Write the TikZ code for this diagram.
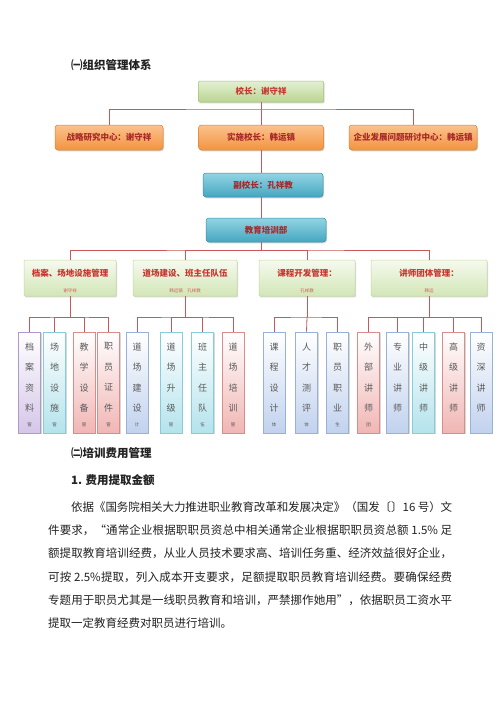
\documentclass[tikz,border=0pt]{standalone}
\usepackage{fontspec}
\setmainfont{Noto Sans CJK SC}
\usetikzlibrary{shadows}
\XeTeXlinebreaklocale "zh"
\XeTeXlinebreakskip=0pt plus 1.5pt minus 0.4pt
\definecolor{conn}{HTML}{C8585A}
\definecolor{gtop}{HTML}{E4F0D2}
\definecolor{gbot}{HTML}{B9D592}
\definecolor{gline}{HTML}{A3C579}
\definecolor{otop}{HTML}{FBC28E}
\definecolor{obot}{HTML}{F2943F}
\definecolor{oline}{HTML}{E07F2A}
\definecolor{btop}{HTML}{92D5E3}
\definecolor{bbot}{HTML}{45A6C0}
\definecolor{bline}{HTML}{3A8FA6}
\definecolor{ltop}{HTML}{F6FAEF}
\definecolor{lbot}{HTML}{D2E6B6}
\definecolor{lline}{HTML}{C2DA9E}
\definecolor{boxtxt}{HTML}{A8282A}
\definecolor{redtxt}{HTML}{C8362F}
\definecolor{pfill}{HTML}{D5C6E8}\definecolor{pline}{HTML}{AE98CF}
\definecolor{cfill}{HTML}{B4E3EC}\definecolor{cline}{HTML}{86CCDA}
\definecolor{rfill}{HTML}{F0B6B4}\definecolor{rline}{HTML}{D98C89}
\definecolor{ufill}{HTML}{C1D2EE}\definecolor{uline}{HTML}{97B1DB}
\definecolor{leaftext}{HTML}{5A5A5A}
\definecolor{bodytext}{HTML}{222222}
\newcommand\leafbox[5]{%
  \node[leafbox,#3] (#1) at (#2,382.5) {};
  \node[leafchars] (#1t) at (#2,377.5) {#4};
  \node[leaflast] (#1u) at (#2,425) {#5};
}
\begin{document}
\begin{tikzpicture}[x=1pt,y=-1pt,
  conn/.style={draw=conn,line width=0.8pt},
  shad/.style={drop shadow={opacity=0.3,shadow xshift=1pt,shadow yshift=-1.3pt}},
  topbox/.style={shad,draw=gline,line width=0.5pt,top color=gtop,bottom color=gbot,rounded corners=1pt,
    minimum height=21pt,inner sep=0pt,text=redtxt,font=\fontsize{8.5}{9}\selectfont\bfseries},
  obox/.style={shad,draw=oline,line width=0.5pt,top color=otop,bottom color=obot,rounded corners=3pt,
    minimum height=25pt,inner sep=0pt,text=boxtxt,font=\fontsize{8.5}{9}\selectfont\bfseries},
  bbox/.style={shad,draw=bline,line width=0.5pt,top color=btop,bottom color=bbot,rounded corners=3pt,
    minimum height=24pt,minimum width=120pt,inner sep=0pt,text=boxtxt,font=\fontsize{8.5}{9}\selectfont\bfseries},
  lbox/.style={shad,draw=lline,line width=0.5pt,top color=ltop,bottom color=lbot,rounded corners=1pt,
    minimum height=36pt,inner sep=0pt},
  lmain/.style={inner sep=0pt,text=redtxt,font=\fontsize{8.5}{9}\selectfont\bfseries},
  lsmall/.style={inner sep=0pt,text=redtxt!80,font=\fontsize{4.5}{5}\selectfont},
  leafbox/.style={shad,line width=0.6pt,minimum width=22pt,minimum height=101pt,inner sep=0pt,top color=white},
  purp/.style={draw=pline,bottom color=pfill},
  cyan/.style={draw=cline,bottom color=cfill},
  pink/.style={draw=rline,bottom color=rfill},
  blu/.style={draw=uline,bottom color=ufill},
  leafchars/.style={align=center,inner sep=0pt,text=leaftext,font=\fontsize{9}{20.5}\selectfont},
  leaflast/.style={inner sep=0pt,text=leaftext,font=\fontsize{4.5}{5}\selectfont},
  htitle/.style={anchor=west,inner sep=0pt,text=bodytext,font=\fontsize{11.5}{12}\selectfont\bfseries},
  para/.style={anchor=north west,inner sep=0pt,text width=404pt,align=justify,text=bodytext,
    font=\fontsize{11.5}{23.2}\selectfont}
]
\useasboundingbox (0,0) rectangle (500,707);
\fill[white] (0,0) rectangle (500,707);

\node[htitle] (t1) at (71,65) {㈠组织管理体系};

% level 1 and 2
\node[topbox,minimum width=125pt] (top) at (261,91.5) {校长：谢守祥};
\node[obox,minimum width=108pt] (l2a) at (109,137.5) {战略研究中心：谢守祥};
\node[obox,minimum width=125pt] (l2b) at (261,137.5) {实施校长：韩运镇};
\node[obox,minimum width=128pt] (l2c) at (413,137.5) {企业发展问题研讨中心：韩运镇};
\node[bbox] (vp) at (263,185) {副校长：孔祥教};
\node[bbox] (dept) at (266,230) {教育培训部};

\coordinate (bus1) at (261,109);
\coordinate (bus2) at (261,250);
\draw[conn] (l2a.north) |- (bus1) -| (l2c.north);
\draw[conn] (top.south) -- (l2b.north);
\draw[conn] (l2b.south) -- (l2b.south |- vp.north);
\draw[conn] (l2b.south |- vp.south) -- (l2b.south |- dept.north);
\draw[conn] (l2b.south |- dept.south) -- (bus2);

% level 4
\node[lbox,minimum width=92pt] (g1) at (70,278) {};
\node[lbox,minimum width=104pt] (g2) at (185,278) {};
\node[lbox,minimum width=96pt] (g3) at (307,278) {};
\node[lbox,minimum width=116pt] (g4) at (429,278) {};
\node[lmain] (g1a) at (70,273) {档案、场地设施管理};
\node[lmain] (g2a) at (185,273) {道场建设、班主任队伍};
\node[lmain] (g3a) at (307,273) {课程开发管理：};
\node[lmain] (g4a) at (429,273) {讲师团体管理：};
\node[lsmall] (g1b) at (70,291) {谢守祥};
\node[lsmall] (g2b) at (185,291) {韩运镇\quad 孔祥教};
\node[lsmall] (g3b) at (307,291) {孔祥教};
\node[lsmall] (g4b) at (429,291) {韩运};
\draw[conn] (g1.north) |- (bus2) -| (g4.north);
\draw[conn] (g2.north) |- (bus2);
\draw[conn] (g3.north) |- (bus2);

% leaves
\leafbox{a1}{29.5}{purp}{档\\案\\资\\料}{管}
\leafbox{a2}{54.5}{cyan}{场\\地\\设\\施}{管}
\leafbox{a3}{84}{pink}{教\\学\\设\\备}{管}
\leafbox{a4}{108.5}{pink}{职\\员\\证\\件}{管}
\leafbox{b1}{137}{blu}{道\\场\\建\\设}{计}
\leafbox{b2}{171}{cyan}{道\\场\\升\\级}{管}
\leafbox{b3}{202.5}{cyan}{班\\主\\任\\队}{伍}
\leafbox{b4}{233}{pink}{道\\场\\培\\训}{管}
\leafbox{c1}{274}{blu}{课\\程\\设\\计}{体}
\leafbox{c2}{306.5}{blu}{人\\才\\测\\评}{体}
\leafbox{c3}{337.5}{blu}{职\\员\\职\\业}{生}
\leafbox{d1}{368.5}{pink}{外\\部\\讲\\师}{团}
\leafbox{d2}{397.5}{blu}{专\\业\\讲\\师}{}
\leafbox{d3}{423.5}{cyan}{中\\级\\讲\\师}{}
\leafbox{d4}{453.5}{pink}{高\\级\\讲\\师}{}
\leafbox{d5}{481}{blu}{资\\深\\讲\\师}{}

\coordinate (j1) at (70,317);
\coordinate (j2) at (185,317);
\coordinate (j3) at (307,317);
\coordinate (j4) at (429,317);
\draw[conn] (g1.south) -- (j1);
\draw[conn] (g2.south) -- (j2);
\draw[conn] (g3.south) -- (j3);
\draw[conn] (g4.south) -- (j4);
\draw[conn] (a1.north) |- (j1) -| (a4.north);
\draw[conn] (a2.north) |- (j1);
\draw[conn] (a3.north) |- (j1);
\draw[conn] (b1.north) |- (j2) -| (b4.north);
\draw[conn] (b2.north) |- (j2);
\draw[conn] (b3.north) |- (j2);
\draw[conn] (c1.north) |- (j3) -| (c3.north);
\draw[conn] (c2.north) -- (j3);
\draw[conn] (d1.north) |- (j4) -| (d5.north);
\draw[conn] (d2.north) |- (j4);
\draw[conn] (d3.north) |- (j4);
\draw[conn] (d4.north) |- (j4);

% text section
\node[htitle] (h2) at (71,453) {㈡培训费用管理};
\node[htitle] (h3) at (71,480) {1. 费用提取金额};
\node[para] (p) at (48,501.5) {\hspace*{2em}依据《国务院相关大力推进职业教育改革和发展决定》（国发〔〕16 号）文\linebreak
件要求，“通常企业根据职职员资总中相关通常企业根据职职员资总额 1.5\% 足\linebreak
额提取教育培训经费，从业人员技术要求高、培训任务重、经济效益很好企业，\linebreak
可按 2.5\%提取，列入成本开支要求，足额提取职员教育培训经费。要确保经费\linebreak
专题用于职员尤其是一线职员教育和培训，严禁挪作她用”，依据职员工资水平\linebreak
提取一定教育经费对职员进行培训。};
\end{tikzpicture}
\end{document}
